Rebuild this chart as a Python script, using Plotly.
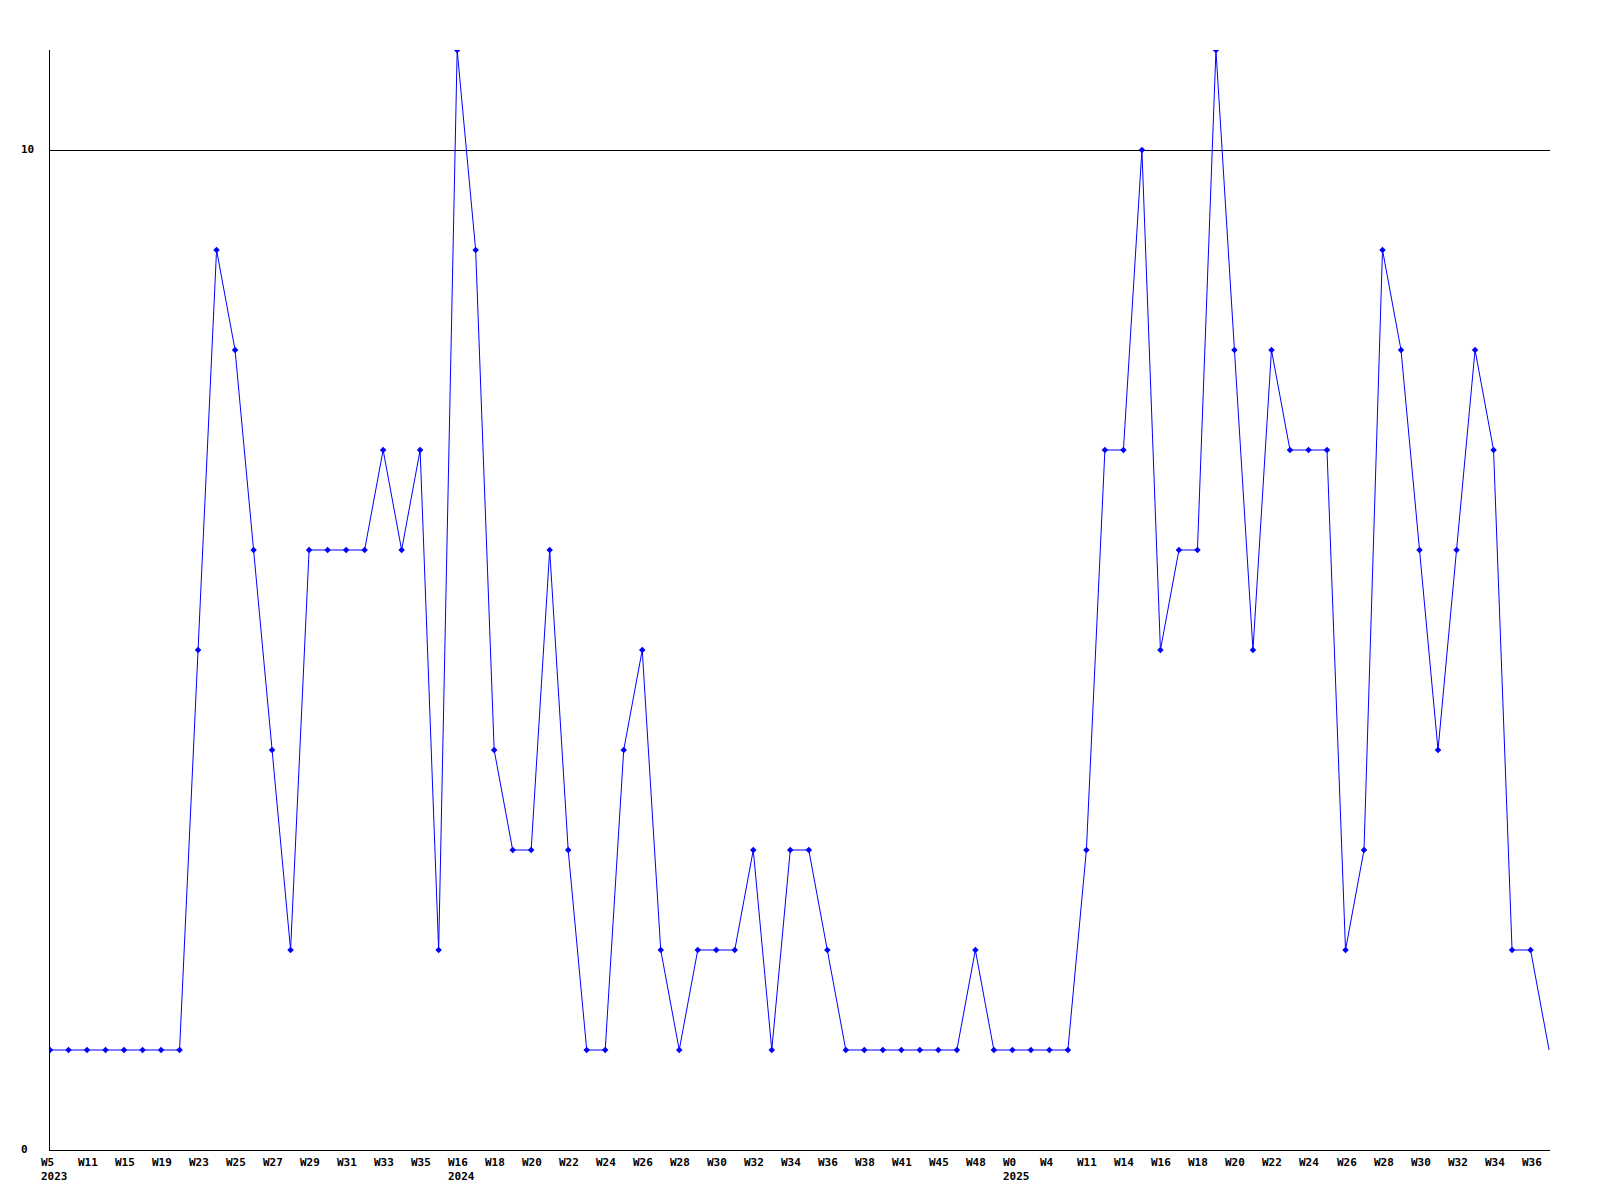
import plotly.graph_objects as go

values = [1, 1, 1, 1, 1, 1, 1, 1, 5, 9, 8, 6, 4, 2, 6, 6, 6, 6, 7, 6,
          7, 2, 11, 9, 4, 3, 3, 6, 3, 1, 1, 4, 5, 2, 1, 2, 2, 2, 3, 1,
          3, 3, 2, 1, 1, 1, 1, 1, 1, 1, 2, 1, 1, 1, 1, 1, 3, 7, 7, 10,
          5, 6, 6, 11, 8, 5, 8, 7, 7, 7, 2, 3, 9, 8, 6, 4, 6, 8, 7, 2,
          2, 1]

tick_labels = ["W5", "W11", "W15", "W19", "W23", "W25", "W27", "W29", "W31", "W33",
               "W35", "W16", "W18", "W20", "W22", "W24", "W26", "W28", "W30", "W32",
               "W34", "W36", "W38", "W41", "W45", "W48", "W0", "W4", "W11", "W14",
               "W16", "W18", "W20", "W22", "W24", "W26", "W28", "W30", "W32", "W34",
               "W36"]
tick_positions = list(range(0, 81, 2))

year_labels = {0: "2023", 22: "2024", 52: "2025"}

y_ticks = [0, 10]

x = list(range(len(values)))

fig = go.Figure()
fig.add_trace(go.Scatter(
    x=x[:-1], y=values[:-1], mode="markers",
    marker=dict(color="#0000FF", size=5, symbol="diamond"),
    showlegend=False, hoverinfo="skip",
))
fig.add_trace(go.Scatter(
    x=x, y=values, mode="lines",
    line=dict(color="#0000FF", width=1),
    showlegend=False, hoverinfo="skip",
))

FONT = dict(family="DejaVu Sans Mono", size=11, color="black", weight="bold")

annotations = []
for pos, lab in zip(tick_positions, tick_labels):
    txt = lab
    if pos in year_labels:
        txt = lab + "<br>" + year_labels[pos]
    annotations.append(dict(
        x=pos, y=0, xref="x", yref="paper", text=txt, showarrow=False,
        xanchor="left", yanchor="top", align="left", xshift=-11, yshift=-4,
        font=FONT,
    ))
for v in y_ticks:
    annotations.append(dict(
        x=0, y=v, xref="paper", yref="y", text=str(v), showarrow=False,
        xanchor="left", yanchor="middle", xshift=-31, yshift=1,
        font=FONT,
    ))

fig.update_layout(
    width=1592, height=1192,
    margin=dict(l=42, r=50, t=42, b=50),
    paper_bgcolor="white", plot_bgcolor="white",
    annotations=annotations,
    xaxis=dict(range=[0, 81.05], showgrid=False, zeroline=False,
               showline=True, linecolor="black", linewidth=1,
               showticklabels=False, ticks=""),
    yaxis=dict(range=[0, 11], tickvals=y_ticks, showgrid=True,
               gridcolor="black", gridwidth=1, zeroline=False,
               showline=True, linecolor="black", linewidth=1,
               showticklabels=False, ticks=""),
)

fig.write_html("out.html")
